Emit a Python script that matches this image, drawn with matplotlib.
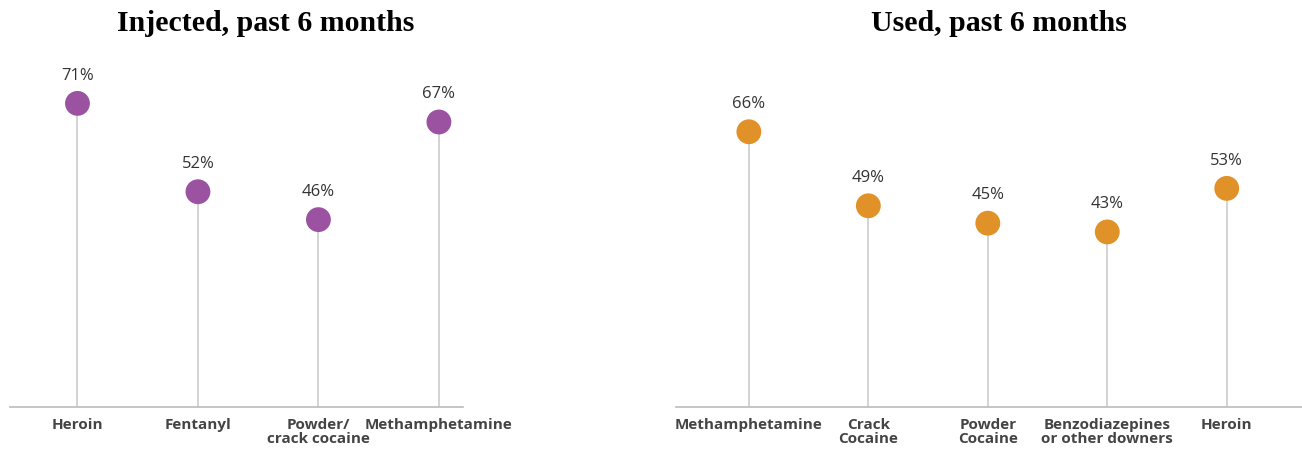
import matplotlib
matplotlib.use("Agg")
import matplotlib.pyplot as plt

# data
inj_labels = ["Heroin", "Fentanyl", "Powder/\ncrack cocaine", "Methamphetamine"]
inj_values = [71, 52, 46, 67]
used_labels = ["Methamphetamine", "Crack\nCocaine", "Powder\nCocaine",
               "Benzodiazepines\nor other downers", "Heroin"]
used_values = [66, 49, 45, 43, 53]

PURPLE = "#9b52a1"
ORANGE = "#e09128"
STEM = "#cccccc"

plt.rcParams['font.family'] = ['Open Sans', 'DejaVu Sans']

fig = plt.figure(figsize=(13.02, 4.52), dpi=100)
W, H = 1302, 452
# axes placed in pixel coords
ax1 = fig.add_axes([10 / W, (H - 408) / H, (463 - 10) / W, (408 - 50) / H])
ax2 = fig.add_axes([676 / W, (H - 408) / H, (1302 - 676) / W, (408 - 50) / H])


def lollipop(ax, labels, values, color, title, xlim, ylim, title_x):
    x = list(range(len(values)))
    ax.set_ylim(*ylim)
    ax.vlines(x, ylim[0], values, color=STEM, lw=1.2, zorder=1)
    ax.scatter(x, values, s=320, color=color, zorder=3, edgecolors='none')
    for xi, v in zip(x, values):
        ax.annotate(f"{v}%", (xi, v), xytext=(0, 15), textcoords="offset points",
                    ha="center", va="bottom", fontsize=12, color="#333333")
    ax.set_xlim(*xlim)
    ax.set_xticks(x)
    ax.set_xticklabels(labels, fontsize=11, fontweight="bold", color="#444444",
                       linespacing=1.05)
    ax.tick_params(axis="x", length=0, pad=7)
    ax.set_yticks([])
    for s in ["top", "right", "left"]:
        ax.spines[s].set_visible(False)
    ax.spines["bottom"].set_color("#bbbbbb")
    ax.spines["bottom"].set_linewidth(1.2)
    fig.text(title_x / W, (H - 10) / H, title, fontsize=21.5, fontweight="bold",
             family="Liberation Serif", color="black", ha="center", va="top")


lollipop(ax1, inj_labels, inj_values, PURPLE, "Injected, past 6 months",
         (-0.56, 3.2), (5.7, 82.7), 266)
lollipop(ax2, used_labels, used_values, ORANGE, "Used, past 6 months",
         (-0.61, 4.63), (2.8, 85), 999)

fig.savefig("out.png", dpi=100)
